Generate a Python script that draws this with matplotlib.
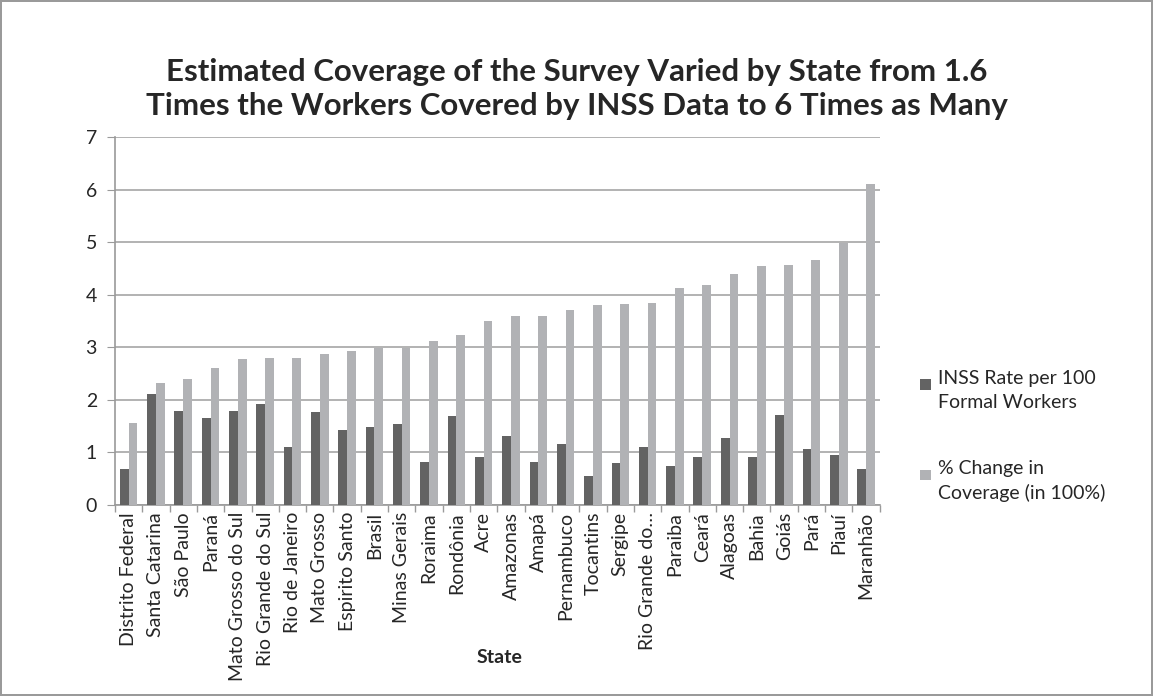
import numpy as np
import matplotlib.pyplot as plt
from matplotlib.ticker import FixedLocator, NullFormatter
from matplotlib.patches import Rectangle
from matplotlib.container import BarContainer
from matplotlib.legend_handler import HandlerBase

# Data
states = ["Distrito Federal", "Santa Catarina", "São Paulo", "Paraná",
          "Mato Grosso do Sul", "Rio Grande do Sul", "Rio de Janeiro",
          "Mato Grosso", "Espirito Santo", "Brasil", "Minas Gerais", "Roraima",
          "Rondônia", "Acre", "Amazonas", "Amapá", "Pernambuco", "Tocantins",
          "Sergipe", "Rio Grande do…", "Paraiba", "Ceará", "Alagoas", "Bahia",
          "Goiás", "Pará", "Piauí", "Maranhão"]
inss_rate = [0.68, 2.11, 1.78, 1.66, 1.78, 1.92, 1.10, 1.77, 1.43, 1.48,
             1.54, 0.81, 1.69, 0.91, 1.31, 0.82, 1.17, 0.56, 0.79, 1.10,
             0.75, 0.91, 1.28, 0.92, 1.71, 1.07, 0.96, 0.68]
pct_change = [1.57, 2.32, 2.39, 2.60, 2.77, 2.79, 2.79, 2.87, 2.93, 2.99,
              2.99, 3.12, 3.23, 3.51, 3.59, 3.60, 3.72, 3.81, 3.83, 3.84,
              4.13, 4.18, 4.39, 4.55, 4.57, 4.67, 4.98, 6.11]

plt.rcParams['font.family'] = ['Lato', 'DejaVu Sans']
TXT = '#262626'
AXC = '#9a9a9a'


# legend marker sitting next to the first line of a two-line label
class TopSquare(HandlerBase):
    def create_artists(self, legend, orig_handle, xdescent, ydescent,
                       width, height, fontsize, trans):
        s = 0.55 * fontsize
        p = Rectangle((-xdescent, -ydescent + height - s - 0.15 * fontsize),
                      s, s, facecolor=orig_handle[0].get_facecolor(),
                      edgecolor='none', transform=trans)
        return [p]


fig = plt.figure(figsize=(11.53, 6.96), dpi=100)
fig.patch.set_edgecolor(AXC)
fig.patch.set_linewidth(1.5)
ax = fig.add_axes([0.0997, 0.2744, 0.6633, 0.5286])

x = np.arange(len(states))
w = 0.32
b1 = ax.bar(x - w / 2, inss_rate, w, color='#636363', zorder=3,
            label='INSS Rate per 100\nFormal Workers')
b2 = ax.bar(x + w / 2, pct_change, w, color='#b1b2b5', zorder=3,
            label='% Change in\nCoverage (in 100%)')

ax.set_xlim(-0.5, len(states) - 0.5)
ax.set_ylim(0, 7)
ax.set_yticks(range(8))
ax.yaxis.grid(True, color='#a5a5a5', linewidth=1.2, zorder=0)

ax.set_xticks(x)
ax.set_xticklabels(states, rotation=90, fontsize=14, color=TXT)
ax.tick_params(axis='x', which='major', length=0, pad=5)
ax.xaxis.set_minor_locator(FixedLocator(np.arange(-0.5, len(states), 1)))
ax.xaxis.set_minor_formatter(NullFormatter())
ax.tick_params(axis='x', which='minor', length=5, color=AXC, width=1)
ax.tick_params(axis='y', length=6, color=AXC, labelsize=14,
               labelcolor=TXT, pad=7)

for s in ['top', 'right']:
    ax.spines[s].set_visible(False)
for s in ['left', 'bottom']:
    ax.spines[s].set_color(AXC)
    ax.spines[s].set_linewidth(1.2)

ax.set_xlabel('State', fontsize=14, fontweight='bold', color=TXT)
ax.xaxis.set_label_coords(0.503, -0.39)

fig.text(0.5, 0.872,
         'Estimated Coverage of the Survey Varied by State from 1.6\n'
         'Times the Workers Covered by INSS Data to 6 Times as Many',
         ha='center', va='center', fontsize=22.5, fontweight='bold',
         color=TXT, linespacing=1.25)

leg = fig.legend(handles=[b1, b2], loc='upper left',
                 bbox_to_anchor=(920 / 1153, 1 - 370 / 696),
                 frameon=False, fontsize=14, labelspacing=2.5,
                 handlelength=0.55, handleheight=2.0, handletextpad=0.36,
                 borderpad=0, borderaxespad=0, labelcolor=TXT,
                 handler_map={BarContainer: TopSquare()})
for t in leg.get_texts():
    t.set_linespacing(1.5)

fig.savefig('out.png', dpi=100)
